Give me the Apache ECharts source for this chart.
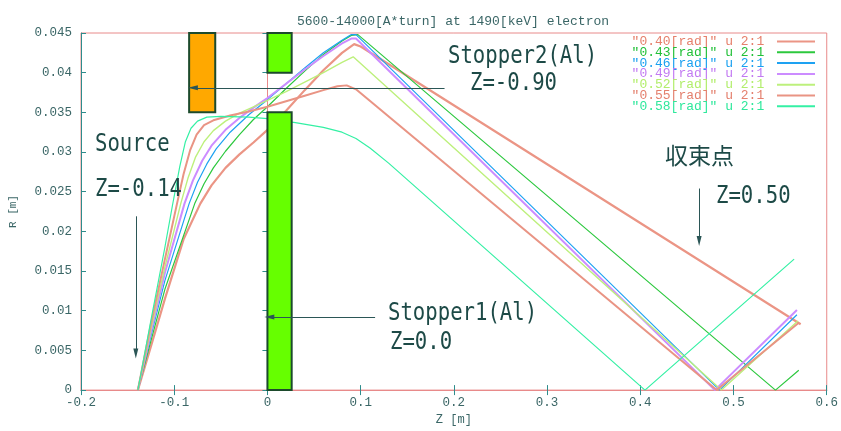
<!DOCTYPE html>
<html>
<head>
<meta charset="utf-8">
<script src="https://cdn.jsdelivr.net/npm/echarts@6/dist/echarts.min.js"></script>
<style>
  html, body { margin: 0; padding: 0; background: #ffffff; }
  #main { width: 841px; height: 431px; }
</style>
</head>
<body>
<div id="main"></div>
<script>
// ---- trajectory data: [Z (m), R (m)] per launch angle ----
const seriesNames = [
  '"0.40[rad]" u 2:1', '"0.43[rad]" u 2:1', '"0.46[rad]" u 2:1', '"0.49[rad]" u 2:1',
  '"0.52[rad]" u 2:1', '"0.55[rad]" u 2:1', '"0.58[rad]" u 2:1'
];

const rad040 = [[-0.139,0],[-0.125,0.0055],[-0.11,0.0115],[-0.09,0.0190],[-0.072,0.0235],[-0.06,0.0258],
  [-0.045,0.0280],[-0.03,0.0297],[-0.015,0.0312],[0.0,0.0328],[0.02,0.0352],[0.04,0.0378],[0.06,0.0403],
  [0.08,0.0425],[0.093,0.0436],[0.10,0.0433],[0.572,0.0083]];
const rad043 = [[-0.139,0],[-0.125,0.0062],[-0.11,0.0127],[-0.078,0.0235],[-0.068,0.0260],[-0.058,0.0280],
  [-0.045,0.0301],[-0.03,0.0322],[-0.015,0.0341],[0.0,0.0357],[0.02,0.0380],[0.04,0.0402],[0.06,0.0423],
  [0.08,0.0440],[0.09,0.0447],[0.097,0.0448],[0.545,0],[0.570,0.0025]];
const rad046 = [[-0.139,0],[-0.125,0.0068],[-0.11,0.0138],[-0.084,0.0235],[-0.075,0.0262],[-0.065,0.0285],
  [-0.055,0.0304],[-0.04,0.0325],[-0.02,0.0347],[0.0,0.0366],[0.02,0.0386],[0.04,0.0406],[0.06,0.0425],
  [0.08,0.0441],[0.09,0.0448],[0.095,0.0448],[0.485,0],[0.568,0.0095]];
const rad049 = [[-0.139,0],[-0.125,0.0073],[-0.11,0.0148],[-0.089,0.0235],[-0.08,0.0264],[-0.07,0.0289],
  [-0.06,0.0308],[-0.045,0.0328],[-0.03,0.0343],[-0.015,0.0356],[0.0,0.0368],[0.02,0.0386],[0.04,0.0404],
  [0.06,0.0421],[0.08,0.0437],[0.09,0.0443],[0.095,0.0443],[0.480,0],[0.568,0.0101]];
const rad052 = [[-0.139,0],[-0.125,0.0077],[-0.11,0.0155],[-0.093,0.0235],[-0.085,0.0268],[-0.077,0.0294],
  [-0.068,0.0313],[-0.058,0.0327],[-0.045,0.0339],[-0.03,0.0349],[-0.015,0.0357],[0.0,0.0365],[0.02,0.0376],
  [0.04,0.0388],[0.06,0.0400],[0.08,0.0413],[0.092,0.0420],[0.487,0],[0.569,0.0087]];
const rad055 = [[-0.139,0],[-0.125,0.0083],[-0.11,0.0165],[-0.097,0.0235],[-0.09,0.0272],[-0.083,0.0302],
  [-0.076,0.0322],[-0.068,0.0334],[-0.058,0.0340],[-0.04,0.0346],[-0.02,0.0351],[0.0,0.0357],[0.02,0.0364],
  [0.04,0.0371],[0.06,0.0378],[0.075,0.0383],[0.085,0.0384],[0.095,0.0379],[0.482,0],[0.570,0.0085]];
const rad058 = [[-0.139,0],[-0.125,0.0088],[-0.11,0.0180],[-0.102,0.0232],[-0.094,0.0282],[-0.088,0.0313],
  [-0.082,0.0330],[-0.075,0.0339],[-0.065,0.0344],[-0.05,0.0345],[-0.02,0.0344],[0.0,0.0342],[0.03,0.0337],
  [0.06,0.0331],[0.08,0.0325],[0.095,0.0317],[0.11,0.0305],[0.13,0.0286],[0.405,0],[0.565,0.0165]];

// stopper blocks: [zStart, zEnd, rBottom, rTop]
const stoppers = [[-0.084, -0.056, 0.035, 0.045], [0.0, 0.026, 0.040, 0.045], [0.0, 0.026, 0.0, 0.035]];

// annotation arrows: [zFrom, rFrom, zTo, rTo]
const arrows = [[-0.1412, 0.0219, -0.1412, 0.0046], [0.190, 0.0381, -0.080, 0.0381],
  [0.1155, 0.0092, 0.002, 0.0092], [0.4631, 0.0254, 0.4631, 0.0188]];

// axis ticks
const zTicks = { min: -0.2, max: 0.6, step: 0.1 };
const rTicks = { min: 0, max: 0.045, step: 0.005 };

// ---- styling ----
const lineColors = ['#eb9585', '#2cc83e', '#1ea2f2', '#cc8cff', '#bdf07c', '#e99484', '#34f0a4'];
const lineWidths = [2.2, 1.2, 1.2, 2, 1.4, 2, 1.2];
const legendColors = ['#e6806c', '#22c038', '#1aa0f0', '#c27af2', '#b2ee6c', '#e4806e', '#2ee89c'];
const stopperFill = ['#ffa800', '#66ff00', '#66ff00'];
const teal = '#2e8c8c';
const textTeal = '#3a6666';
const noteColor = '#1d4a47';

const allData = [rad040, rad043, rad046, rad049, rad052, rad055, rad058];

const chart = echarts.init(document.getElementById('main'), null, { renderer: 'canvas' });

const lineSeries = allData.map((d, i) => ({
  name: seriesNames[i],
  type: 'line',
  data: d,
  showSymbol: false,
  symbol: 'none',
  smooth: false,
  animation: false,
  z: 2,
  lineStyle: { color: lineColors[i], width: lineWidths[i] },
  itemStyle: { color: lineColors[i] }
}));

const axisLabelStyle = { fontFamily: 'Liberation Mono', fontSize: 12.5, color: textTeal };

const option = {
  backgroundColor: '#ffffff',
  animation: false,
  title: {
    text: '5600-14000[A*turn] at 1490[keV] electron',
    left: 292, top: 10,
    textStyle: { fontFamily: 'Liberation Mono', fontSize: 13, fontWeight: 'normal', color: textTeal }
  },
  grid: { left: 80, right: 13, top: 33, bottom: 34, show: true, borderColor: '#e88a8a', borderWidth: 1 },
  legend: {
    orient: 'vertical', right: 26, top: 35, align: 'right', padding: 0,
    icon: 'rect', itemWidth: 38, itemHeight: 2, itemGap: -2.2,
    formatter: n => n + ' ',
    textStyle: { fontFamily: 'Liberation Mono', fontSize: 13 },
    data: seriesNames.map((n, i) => ({ name: n, textStyle: { color: legendColors[i] } }))
  },
  xAxis: [{
    type: 'value', min: zTicks.min, max: zTicks.max, interval: zTicks.step,
    name: 'Z [m]', nameLocation: 'middle', nameGap: 17,
    nameTextStyle: { fontFamily: 'Liberation Mono', fontSize: 12, color: textTeal },
    axisLine: { show: true, onZero: false, lineStyle: { color: teal, width: 1 } },
    axisTick: { show: true, inside: true, length: 5, lineStyle: { color: teal } },
    axisLabel: Object.assign({ margin: 6 }, axisLabelStyle),
    splitLine: { show: false }
  }, {
    type: 'value', position: 'top', min: zTicks.min, max: zTicks.max, interval: zTicks.step,
    axisLine: { show: true, lineStyle: { color: '#e88a8a', width: 1 } },
    axisTick: { show: true, inside: true, length: 5, lineStyle: { color: teal } },
    axisLabel: { show: false }, splitLine: { show: false }
  }],
  yAxis: [{
    type: 'value', min: rTicks.min, max: rTicks.max, interval: rTicks.step,
    name: 'R [m]', nameLocation: 'middle', nameGap: 62, nameRotate: 90,
    nameTextStyle: { fontFamily: 'Liberation Mono', fontSize: 11, color: textTeal },
    axisLine: { show: true, onZero: false, lineStyle: { color: teal, width: 1 } },
    axisTick: { show: true, inside: true, length: 5, lineStyle: { color: teal } },
    axisLabel: Object.assign({ margin: 9 }, axisLabelStyle),
    splitLine: { show: false }
  }, {
    type: 'value', position: 'right', min: rTicks.min, max: rTicks.max, interval: rTicks.step,
    axisLine: { show: true, lineStyle: { color: '#e88a8a', width: 1 } },
    axisTick: { show: true, inside: true, length: 5, lineStyle: { color: teal } },
    axisLabel: { show: false }, splitLine: { show: false }
  }],
  series: lineSeries.concat([{
    name: 'stoppers',
    type: 'custom',
    z: 3,
    silent: true,
    animation: false,
    data: stoppers,
    encode: { x: [0, 1], y: [2, 3] },
    renderItem: (params, api) => {
      const topLeft = api.coord([api.value(0), api.value(3)]);
      const bottomRight = api.coord([api.value(1), api.value(2)]);
      return {
        type: 'rect',
        shape: { x: topLeft[0], y: topLeft[1], width: bottomRight[0] - topLeft[0], height: bottomRight[1] - topLeft[1] },
        style: { fill: stopperFill[params.dataIndex], stroke: '#1c4a2c', lineWidth: 2 }
      };
    }
  }, {
    // pointer arrows drawn above the stopper blocks
    name: 'pointers',
    type: 'line',
    data: [],
    z: 10,
    silent: true,
    animation: false,
    markLine: {
      z: 20,
      silent: true,
      animation: false,
      symbol: ['none', 'triangle'],
      symbolSize: 8,
      label: { show: false },
      lineStyle: { color: '#2b5656', width: 1, type: 'solid' },
      emphasis: { disabled: true },
      data: arrows.map(a => [
        { coord: [a[0], a[1]], symbol: 'none' },
        { coord: [a[2], a[3]], symbol: 'triangle', symbolSize: [5, 10] }
      ])
    }
  }])
};

chart.setOption(option);

// ---- text annotations ----
const monoFont = '24px "DejaVu Sans Mono"';
const notes = [
  { text: 'Stopper2(Al)', x: 448, y: 57 },
  { text: 'Z=-0.90', x: 470, y: 84 },
  { text: 'Source', x: 95, y: 145 },
  { text: 'Z=-0.14', x: 95, y: 190 },
  { text: 'Z=0.50', x: 716, y: 197 },
  { text: 'Stopper1(Al)', x: 388, y: 314 },
  { text: 'Z=0.0', x: 390, y: 343 }
];
const graphics = notes.map(n => ({
  type: 'text', x: n.x, y: n.y, scaleX: 0.86, z: 100,
  style: { text: n.text, font: monoFont, fill: noteColor, verticalAlign: 'middle', align: 'left' }
}));
graphics.push({
  type: 'text', x: 665, y: 155, z: 100,
  style: { text: '収束点', font: '23px "Noto Sans CJK JP"', fill: noteColor, verticalAlign: 'middle', align: 'left' }
});
chart.setOption({ graphic: graphics });
</script>
</body>
</html>
